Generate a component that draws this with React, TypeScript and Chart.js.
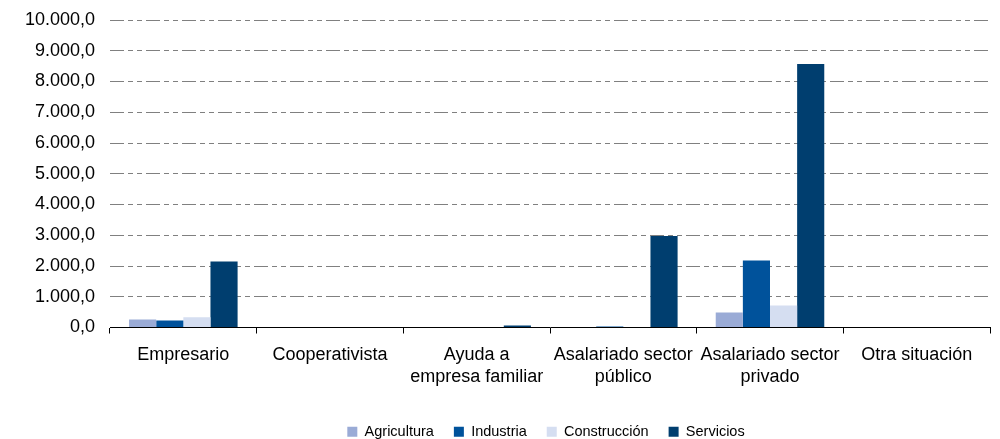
import React, { useEffect, useRef } from "react";
import { Chart, registerables } from "chart.js";

Chart.register(...registerables);

const categories: (string | string[])[] = [
  "Empresario",
  "Cooperativista",
  ["Ayuda a", "empresa familiar"],
  ["Asalariado sector", "público"],
  ["Asalariado sector", "privado"],
  "Otra situación",
];

const agricultura = [260, 0, 0, 0, 490, 0];
const industria = [230, 0, 0, 30, 2180, 0];
const construccion = [330, 0, 0, 0, 715, 0];
const servicios = [2150, 0, 65, 2975, 8570, 0];

const seriesNames = ["Agricultura", "Industria", "Construcción", "Servicios"];
const seriesColors = ["#9AABD6", "#00529B", "#D5DEF1", "#003E6F"];

const yMin = 0;
const yMax = 10000;
const yStep = 1000;

function formatEs(v: number): string {
  const intPart = Math.round(v).toString().replace(/\B(?=(\d{3})+(?!\d))/g, ".");
  return intPart + ",0";
}

const legendShift = {
  id: "legendShift",
  afterLayout(chart: any) {
    const lg = chart.legend;
    if (!lg) return;
    const dx = (chart.chartArea.left + chart.chartArea.right) / 2 - (lg.left + lg.right) / 2 - 4;
    lg.left += dx;
    lg.right += dx;
    if (lg.legendHitBoxes) lg.legendHitBoxes.forEach((h: any) => (h.left += dx));
  },
};

export default function App() {
  const ref = useRef<HTMLCanvasElement | null>(null);

  useEffect(() => {
    document.body.style.margin = "0";
    if (!ref.current) return;
    const font = "'Liberation Sans', Arial, sans-serif";
    const chart = new Chart(ref.current, {
      type: "bar",
      data: {
        labels: categories,
        datasets: [agricultura, industria, construccion, servicios].map((d, i) => ({
          label: seriesNames[i],
          data: d,
          backgroundColor: seriesColors[i],
          borderWidth: 0,
          categoryPercentage: 0.74,
          barPercentage: 1.0,
        })),
      },
      plugins: [legendShift],
      options: {
        animation: false,
        responsive: false,
        maintainAspectRatio: false,
        layout: { padding: { left: 0, right: 10, top: 20, bottom: -10 } },
        plugins: {
          legend: {
            position: "bottom",
            labels: {
              boxWidth: 10,
              boxHeight: 10,
              padding: 20,
              color: "#000",
              font: { family: font, size: 14.5 },
            },
          },
          tooltip: { enabled: false },
        },
        scales: {
          x: {
            grid: {
              offset: true,
              drawOnChartArea: false,
              drawTicks: true,
              tickLength: 6,
              color: "#000",
            },
            border: { display: true, color: "#000", width: 1 },
            ticks: {
              color: "#000",
              font: { family: font, size: 18 },
              padding: 11,
              maxRotation: 0,
              autoSkip: false,
            },
            afterFit: (scale: any) => {
              scale.height = 77;
            },
          },
          y: {
            min: yMin,
            max: yMax,
            grid: {
              drawTicks: false,
              color: (ctx: any) => (ctx.tick && ctx.tick.value === 0 ? "rgba(0,0,0,0)" : "#808080"),
              lineWidth: 1,
            },
            border: { display: false, dash: [14, 4, 5, 4, 5, 4] },
            ticks: {
              stepSize: yStep,
              color: "#000",
              font: { family: font, size: 18 },
              padding: 15,
              callback: (v: any) => formatEs(Number(v)),
            },
            afterFit: (scale: any) => {
              scale.width = 110;
              scale.paddingTop = 0;
              scale.paddingBottom = 0;
            },
          },
        },
      },
    });
    return () => chart.destroy();
  }, []);

  return (
    <div style={{ width: 1000, height: 439 }}>
      <canvas ref={ref} width={1000} height={439} style={{ display: "block" }} />
    </div>
  );
}
